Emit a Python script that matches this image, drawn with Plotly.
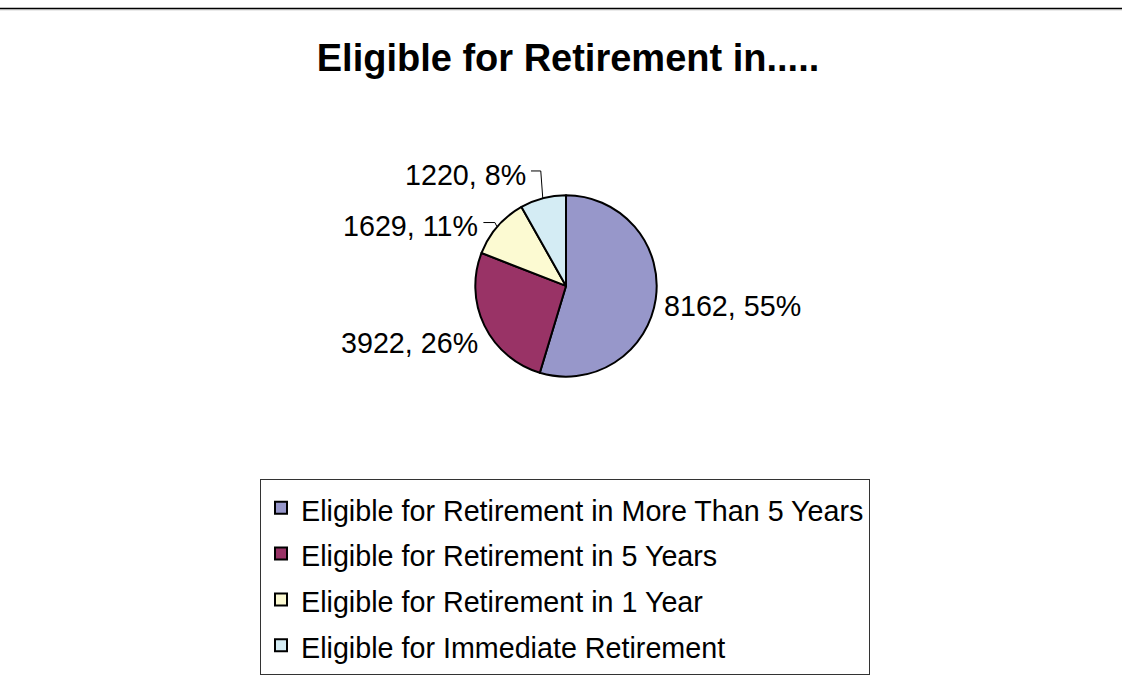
import math
import plotly.graph_objects as go

# ---- data ----
categories = [
    "Eligible for Retirement in More Than 5 Years",
    "Eligible for Retirement in 5 Years",
    "Eligible for Retirement in 1 Year",
    "Eligible for Immediate Retirement",
]
values = [8162, 3922, 1629, 1220]
colors = ["#9797CA", "#993366", "#FCFAD2", "#D4ECF4"]
title_text = "Eligible for Retirement in....."

# ---- layout / styling ----
W, H = 1122, 675
CX, CY, R = 566, 288.5, 91.5          # pie centre / radius in px
FONT = "Liberation Sans, Arial, sans-serif"
TEXT_SIZE = 28.7
LEGEND_ROW_SIZE = 33                  # controls legend row spacing
# label offsets (px) from the slice's outer mid-angle point, and anchors
label_style = [
    dict(dx=5.5, dy=6.5, xanchor="left", leader=False),
    dict(dx=-3.8, dy=18.0, xanchor="right", leader=False),
    dict(dx=-16.5, dy=0.0, xanchor="right", leader=True),
    dict(dx=-14.8, dy=-23.5, xanchor="right", leader=True),
]


def px2paper(x, y):
    return x / W, 1 - y / H


legend_labels = [f'<span style="font-size:{TEXT_SIZE}px">{c}</span>' for c in categories]

fig = go.Figure()
fig.add_trace(go.Pie(
    labels=legend_labels,
    values=values,
    sort=False,
    direction="clockwise",
    rotation=0,
    textinfo="none",
    hovertemplate="%{label}<br>%{value}, %{percent}<extra></extra>",
    marker=dict(colors=colors, line=dict(color="#000000", width=2)),
    domain=dict(x=[(CX - R) / W, (CX + R) / W],
                y=[(H - CY - R) / H, (H - CY + R) / H]),
))

total = sum(values)
cum = 0
annotations = []
shapes = []
for v, st in zip(values, label_style):
    mid = (cum + v / 2) / total * 2 * math.pi
    cum += v
    ex = CX + R * math.sin(mid)
    ey = CY - R * math.cos(mid)
    lx, ly = ex + st["dx"], ey + st["dy"]
    pct = round(v / total * 100)
    px_, py_ = px2paper(lx, ly)
    annotations.append(dict(
        x=px_, y=py_, xref="paper", yref="paper",
        text=f"{v}, {pct}%", showarrow=False,
        xanchor=st["xanchor"], yanchor="middle",
        font=dict(family=FONT, size=TEXT_SIZE, color="#000000"),
    ))
    if st["leader"]:
        sx, sy = px2paper(lx + 3, ly - 4)
        mx, _ = px2paper(ex - 2, ly - 4)
        exx, eyy = px2paper(ex, ey)
        shapes.append(dict(
            type="path", xref="paper", yref="paper",
            path=f"M{sx},{sy} L{mx},{sy} L{exx},{eyy}",
            line=dict(color="#000000", width=1),
        ))

# chart-area top border
shapes.append(dict(type="line", xref="paper", yref="paper",
                   x0=0, x1=1, y0=1 - 8.5 / H, y1=1 - 8.5 / H,
                   line=dict(color="#000000", width=1.2)))
shapes.append(dict(type="line", xref="paper", yref="paper",
                   x0=0, x1=1, y0=1 - 9.8 / H, y1=1 - 9.8 / H,
                   line=dict(color="#9a9a9a", width=1)))

fig.update_layout(
    width=W, height=H,
    margin=dict(l=0, r=0, t=0, b=0),
    paper_bgcolor="#FFFFFF",
    plot_bgcolor="#FFFFFF",
    title=dict(text=title_text, x=568 / W, y=1 - 58 / H,
               xref="paper", yref="paper",
               xanchor="center", yanchor="middle",
               font=dict(family=FONT, size=38, color="#000000", weight="bold")),
    showlegend=True,
    legend=dict(
        x=260 / W, y=1 - 483 / H, xanchor="left", yanchor="top",
        bgcolor="#FFFFFF", bordercolor="#333333", borderwidth=1,
        font=dict(family=FONT, size=LEGEND_ROW_SIZE, color="#000000"),
        traceorder="normal",
    ),
    annotations=annotations,
    shapes=shapes,
)

fig.write_html("out.html")
